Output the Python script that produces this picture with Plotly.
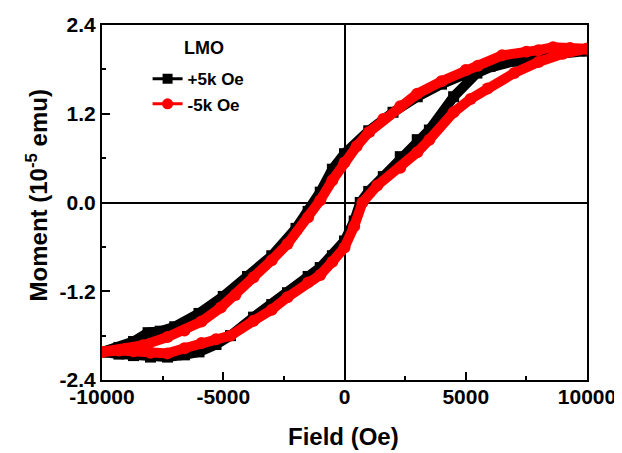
import plotly.graph_objects as go

# +5k Oe (black) – descending branch (upper), then ascending branch (lower)
blk_down_x = [10000, 9000, 8000, 7000, 6000, 5000, 4000, 3000, 2000, 1000, 0, -500, -1000, -1500, -2000,
              -3000, -4000, -5000, -6000, -7000, -7600, -8100, -8700, -9300, -10000]
blk_down_y = [2.05, 2.03, 1.98, 1.91, 1.84, 1.74, 1.60, 1.43, 1.22, 0.97, 0.66, 0.45, 0.14, -0.12, -0.35,
              -0.72, -1.00, -1.27, -1.50, -1.68, -1.74, -1.76, -1.88, -1.96, -2.02]
blk_up_x = [-10000, -9300, -8700, -8000, -7300, -6600, -6000, -5300, -4700, -3750, -3000, -2350, -1500,
            -1000, -500, 0, 400, 650, 1000, 1600, 2300, 3000, 3500, 4500, 5460, 6500, 7500, 8600, 10000]
blk_up_y = [-2.02, -2.05, -2.07, -2.09, -2.09, -2.06, -2.02, -1.92, -1.80, -1.55, -1.38, -1.22, -1.00,
            -0.88, -0.72, -0.52, -0.25, 0.00, 0.15, 0.35, 0.62, 0.85, 0.98, 1.43, 1.75, 1.90, 1.96, 2.00, 2.05]

# -5k Oe (red)
red_down_x = [10000, 9300, 8600, 8000, 7500, 6500, 5500, 5000, 4000, 3000, 2300, 1600, 1000, 500, 0,
              -500, -1000, -1500, -2350, -3000, -3750, -4500, -5100, -5900, -6600, -7300, -8300, -9000, -10000]
red_down_y = [2.08, 2.09, 2.10, 2.06, 2.04, 1.99, 1.85, 1.79, 1.64, 1.47, 1.30, 1.13, 0.95, 0.76, 0.54,
              0.30, 0.03, -0.20, -0.56, -0.78, -1.01, -1.25, -1.42, -1.61, -1.73, -1.82, -1.93, -1.98, -2.02]
red_up_x = [-10000, -9300, -8700, -8000, -7300, -6600, -5900, -5300, -4700, -3750, -3000, -2350, -1500,
            -1000, -500, 0, 400, 740, 1350, 2300, 3000, 3500, 4500, 5200, 5900, 7000, 8000, 9000, 10000]
red_up_y = [-2.02, -2.00, -2.01, -2.03, -2.04, -1.97, -1.90, -1.85, -1.80, -1.60, -1.45, -1.28, -1.08,
            -0.98, -0.80, -0.61, -0.32, 0.00, 0.23, 0.47, 0.68, 0.85, 1.22, 1.40, 1.54, 1.75, 1.90, 2.01, 2.08]

x_ticks = [-10000, -5000, 0, 5000, 10000]
x_tick_text = ["-10000", "-5000", "0", "5000", "10000"]
y_ticks = [-2.4, -1.2, 0.0, 1.2, 2.4]
y_tick_text = ["-2.4", "-1.2", "0.0", "1.2", "2.4"]

series_names = ["+5k Oe", "-5k Oe"]
legend_title = "LMO"
x_title = "Field (Oe)"
y_title = "Moment (10<sup>-5</sup> emu)"

FONT = "Liberation Sans, Arial, sans-serif"

fig = go.Figure()

fig.add_trace(go.Scatter(x=blk_down_x + blk_up_x, y=blk_down_y + blk_up_y, mode="lines+markers",
                         line=dict(color="black", width=10),
                         marker=dict(symbol="square", size=11, color="black"),
                         showlegend=False))
fig.add_trace(go.Scatter(x=red_down_x + red_up_x, y=red_down_y + red_up_y, mode="lines+markers",
                         line=dict(color="red", width=10),
                         marker=dict(symbol="circle", size=12, color="red"),
                         showlegend=False))
# legend entries
fig.add_trace(go.Scatter(x=[None], y=[None], mode="lines+markers", name=series_names[0],
                         line=dict(color="black", width=3),
                         marker=dict(symbol="square", size=10, color="black")))
fig.add_trace(go.Scatter(x=[None], y=[None], mode="lines+markers", name=series_names[1],
                         line=dict(color="red", width=3),
                         marker=dict(symbol="circle", size=11, color="red")))

axis_common = dict(showline=True, linecolor="black", linewidth=2, mirror=True,
                   ticks="inside", ticklen=8, tickwidth=2, tickcolor="black",
                   showgrid=False, zeroline=True, zerolinecolor="black", zerolinewidth=2,
                   automargin=False,
                   tickfont=dict(family=FONT, size=21, color="black", weight="bold"))

fig.update_xaxes(range=[-10000, 10000], tickmode="array", tickvals=x_ticks, ticktext=x_tick_text,
                 minor=dict(ticks="inside", ticklen=4, tickwidth=2, tickcolor="black", dtick=2500, tick0=0),
                 ticklabelstandoff=-3,
                 **axis_common)
fig.update_yaxes(range=[-2.4, 2.4], tickmode="array", tickvals=y_ticks, ticktext=y_tick_text,
                 minor=dict(ticks="inside", ticklen=4, tickwidth=2, tickcolor="black", dtick=0.6, tick0=0),
                 **axis_common)

fig.add_annotation(text=x_title, xref="paper", yref="paper", x=0.4979, y=-0.158,
                   xanchor="center", yanchor="middle", showarrow=False,
                   font=dict(family=FONT, size=24, color="black", weight="bold"))
fig.add_annotation(text=y_title, xref="paper", yref="paper", x=-0.134, y=0.52,
                   xanchor="center", yanchor="middle", showarrow=False, textangle=-90,
                   font=dict(family=FONT, size=24, color="black", weight="bold"))
# legend heading
fig.add_annotation(text=legend_title, xref="paper", yref="paper", x=0.210, y=0.935,
                   xanchor="center", yanchor="middle", showarrow=False,
                   font=dict(family=FONT, size=18, color="black", weight="bold"))

# page body adds an 8px offset; figure is sized so the plot area lands at x 102-587, y 25-380
fig.update_layout(
    width=614, height=445,
    margin=dict(l=94, r=35, t=17, b=73),
    paper_bgcolor="white", plot_bgcolor="white",
    legend=dict(x=0.094, y=0.898, xanchor="left", yanchor="top",
                bgcolor="rgba(0,0,0,0)",
                font=dict(family=FONT, size=17, color="black", weight="bold"),
                tracegroupgap=0, itemwidth=30),
)

fig.write_html("out.html")
